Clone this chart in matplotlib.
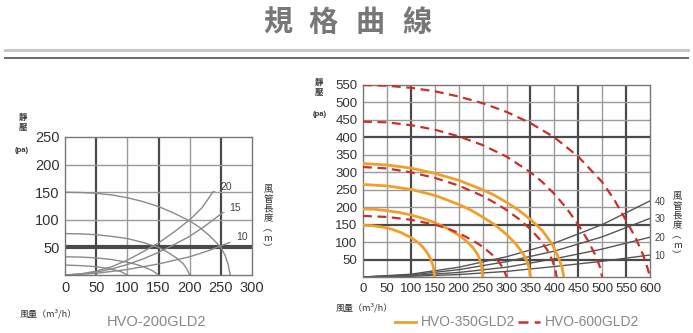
import matplotlib
matplotlib.use("Agg")
import matplotlib.pyplot as plt
from matplotlib.lines import Line2D

W, H = 693, 333
CJK = ['Noto Sans CJK TC', 'DejaVu Sans']
NUM = ['Liberation Sans Narrow', 'Liberation Sans', 'DejaVu Sans']

# ---------------- data: HVO-200GLD2 (left) ----------------
left_xticks = [0, 50, 100, 150, 200, 250, 300]
left_yticks = [50, 100, 150, 200, 250]
fan200_1_q = [0, 25, 50, 75, 100, 125, 150, 175, 200, 215, 230, 240, 250, 257, 262, 265]
fan200_1_p = [150, 149.5, 148, 145, 140, 133, 124, 112, 98, 87, 73, 62, 50, 35, 18, 0]
fan200_2_q = [0, 25, 50, 75, 100, 125, 150, 165, 180, 190, 196, 200]
fan200_2_p = [75, 74.5, 73, 70, 66, 59, 50, 41, 30, 20, 10, 0]
fan200_3_q = [0, 25, 50, 75, 100, 115, 130, 140, 150]
fan200_3_p = [33, 32.5, 31, 28, 23, 19, 13, 8, 0]
fan200_4_q = [0, 25, 50, 65, 80, 90, 100]
fan200_4_p = [18, 17, 15, 12.5, 9, 6, 0]
duct200_labels = ['20', '15', '10']
duct200_q = [[0, 25, 50, 75, 100, 125, 150, 175, 200, 220, 237],
             [0, 25, 50, 75, 100, 125, 150, 175, 200, 225, 252],
             [0, 50, 100, 150, 200, 230, 262]]
duct200_p = [[0, 2, 7, 15, 27, 42, 58, 78, 100, 122, 150],
             [0, 1.5, 5, 11, 19, 29, 41, 55, 70, 89, 112],
             [0, 3, 10, 20, 33, 44, 58]]

# ---------------- data: HVO-350GLD2 / HVO-600GLD2 (right) ----------------
right_xticks = list(range(0, 601, 50))
right_yticks = list(range(50, 551, 50))
o350_q = [[0, 20, 40, 60, 80, 100, 115, 125, 135, 142, 147, 150],
          [0, 25, 50, 75, 100, 125, 150, 175, 200, 215, 230, 240, 246, 249, 250],
          [0, 50, 100, 150, 200, 225, 250, 275, 300, 320, 335, 345, 348, 350],
          [0, 50, 100, 150, 200, 250, 275, 300, 325, 350, 375, 395, 408, 416, 420]]
o350_p = [[148, 147, 143, 137, 127, 113, 99, 86, 68, 50, 30, 0],
          [195, 194, 190, 185, 178, 168, 156, 140, 120, 104, 84, 64, 42, 20, 0],
          [265, 261, 251, 234, 208, 192, 172, 150, 122, 94, 66, 38, 20, 0],
          [325, 321, 312, 297, 277, 250, 234, 214, 192, 165, 133, 95, 58, 28, 0]]
r600_q = [[0, 50, 100, 150, 175, 200, 225, 250, 270, 285, 295, 300],
          [0, 50, 100, 150, 200, 250, 275, 300, 325, 350, 370, 385, 396, 402, 405],
          [0, 50, 100, 150, 200, 250, 300, 350, 375, 400, 425, 450, 470, 485, 495, 500],
          [0, 50, 100, 150, 200, 250, 300, 350, 400, 450, 500, 525, 550, 570, 585, 595, 600]]
r600_p = [[175, 172, 164, 150, 140, 126, 108, 87, 64, 42, 20, 0],
          [315, 311, 300, 284, 262, 232, 213, 192, 167, 137, 107, 78, 47, 22, 0],
          [445, 443, 435, 422, 403, 378, 345, 300, 272, 238, 198, 150, 105, 65, 30, 0],
          [550, 548, 542, 532, 517, 498, 473, 441, 400, 345, 272, 222, 162, 112, 65, 25, 0]]
duct600_labels = ['40', '30', '20', '10']
duct600_q = [0, 100, 200, 300, 400, 500, 600]
duct600_p = [[0, 8, 28, 58, 97, 150, 218],
             [0, 6, 21, 44, 74, 115, 168],
             [0, 4, 13, 28, 52, 80, 114],
             [0, 2, 7, 16, 30, 45, 63]]

GRAY = '#8a8a8a'
DARK = '#4a4a4a'
ORANGE = '#f0a02a'
RED = '#c8302a'


def px(x, y):
    return x / W, 1 - y / H


fig = plt.figure(figsize=(W / 100, H / 100), dpi=100)
fig.patch.set_facecolor('white')

# title
for ch, cx in zip('規格曲線', [278, 323, 370, 417]):
    fig.text(*px(cx, 22), ch, family=CJK, fontsize=21, fontweight='bold',
             color='#777777', ha='center', va='center')
fig.add_artist(Line2D([5 / W, 688 / W], [1 - 50 / H] * 2, color='#c8c8c8', lw=2.2))
fig.add_artist(Line2D([5 / W, 688 / W], [1 - 58 / H] * 2, color='#6a6a6a', lw=1.4))


def setup(ax, xmax, ymax, xticks, yticks, vdark, hdark):
    ax.set_xlim(0, xmax)
    ax.set_ylim(0, ymax)
    for s in ax.spines.values():
        s.set_color('#777777')
        s.set_linewidth(1.0)
    for v in xticks[1:-1]:
        dk = v in vdark
        ax.axvline(v, color=DARK if dk else '#9a9a9a', lw=1.6 if dk else 1.0, zorder=1)
    for v in yticks[:-1]:
        dk = v in hdark
        ax.axhline(v, color=DARK if dk else '#9a9a9a', lw=hdark.get(v, 1.0) if dk else 1.0, zorder=1)
    ax.set_xticks(xticks)
    ax.set_yticks(yticks)
    ax.tick_params(length=0, pad=4)
    for lab in ax.get_xticklabels() + ax.get_yticklabels():
        lab.set_family(NUM)
        lab.set_color('#333333')


def vlabel(cx, cy):
    fig.text(*px(cx, cy), '風\n管\n長\n度\n︵\nm\n︶', family=CJK, fontsize=6.8,
             color='#333333', ha='center', va='center', linespacing=1.12)


# ---------------- left chart ----------------
axL = fig.add_axes([65 / W, 1 - 275 / H, 187 / W, 138 / H])
setup(axL, 300, 250, left_xticks, left_yticks, {50, 150, 250}, {50: 3.0})
for lab in axL.get_xticklabels() + axL.get_yticklabels():
    lab.set_fontsize(10.5)
for q, p in [(fan200_1_q, fan200_1_p), (fan200_2_q, fan200_2_p),
             (fan200_3_q, fan200_3_p), (fan200_4_q, fan200_4_p)]:
    axL.plot(q, p, color=GRAY, lw=1.0, zorder=2)
for q, p, lab in zip(duct200_q, duct200_p, duct200_labels):
    axL.plot(q, p, color=GRAY, lw=1.0, zorder=2)
    axL.annotate(lab, xy=(q[-1], p[-1]), xytext=(q[-1] + 12, p[-1] + 10),
                 fontsize=7.5, family=NUM, color='#444444', ha='left', va='center',
                 arrowprops=dict(arrowstyle='-', color=GRAY, lw=0.7),
                 annotation_clip=False)

fig.text(*px(23, 122), '靜\n壓', family=CJK, fontsize=6, fontweight='bold',
         color='#333333', ha='center', va='center', linespacing=1.0)
fig.text(*px(22, 150), '(pa)', family=NUM, fontsize=5.5, fontweight='bold',
         color='#333333', ha='center', va='center')
vlabel(268, 219)
fig.text(*px(20, 314), '風量（m³/h）', family=CJK, fontsize=6.5,
         color='#333333', ha='left', va='center')
fig.text(*px(107, 322), 'HVO-200GLD2', family=NUM, fontsize=10.5,
         color='#888888', ha='left', va='center')

# ---------------- right chart ----------------
axR = fig.add_axes([363 / W, 1 - 277 / H, 287 / W, 192 / H])
setup(axR, 600, 550, right_xticks, right_yticks, {100, 350, 450, 550},
      {50: 1.6, 150: 1.6, 400: 1.6})
for lab in axR.get_xticklabels() + axR.get_yticklabels():
    lab.set_fontsize(9.5)
for p in duct600_p:
    axR.plot(duct600_q, p, color='#555555', lw=1.0, zorder=2)
for q, p in zip(o350_q, o350_p):
    axR.plot(q, p, color=ORANGE, lw=2.0, zorder=3, solid_capstyle='butt')
for q, p in zip(r600_q, r600_p):
    axR.plot(q, p, color=RED, lw=1.6, ls=(0, (4, 2.5)), zorder=3)
for lab, p in zip(duct600_labels, duct600_p):
    axR.text(610, p[-1] - 2, lab, fontsize=7, family=NUM, color='#444444',
             ha='left', va='center', clip_on=False)

fig.text(*px(319, 87), '靜\n壓', family=CJK, fontsize=6, fontweight='bold',
         color='#333333', ha='center', va='center', linespacing=1.0)
fig.text(*px(320, 114), '(pa)', family=NUM, fontsize=5.5, fontweight='bold',
         color='#333333', ha='center', va='center')
vlabel(677, 226)
fig.text(*px(336, 308), '風量（m³/h）', family=CJK, fontsize=6.5,
         color='#333333', ha='left', va='center')

fig.add_artist(Line2D([395 / W, 416 / W], [1 - 322 / H] * 2, color=ORANGE, lw=2.0))
fig.text(*px(421, 322), 'HVO-350GLD2', family=NUM, fontsize=10,
         color='#888888', ha='left', va='center')
fig.add_artist(Line2D([518 / W, 540 / W], [1 - 322 / H] * 2, color=RED, lw=1.8,
                      ls=(0, (4, 2.5))))
fig.text(*px(545, 322), 'HVO-600GLD2', family=NUM, fontsize=10,
         color='#888888', ha='left', va='center')

fig.savefig('out.png', dpi=100, facecolor='white')
